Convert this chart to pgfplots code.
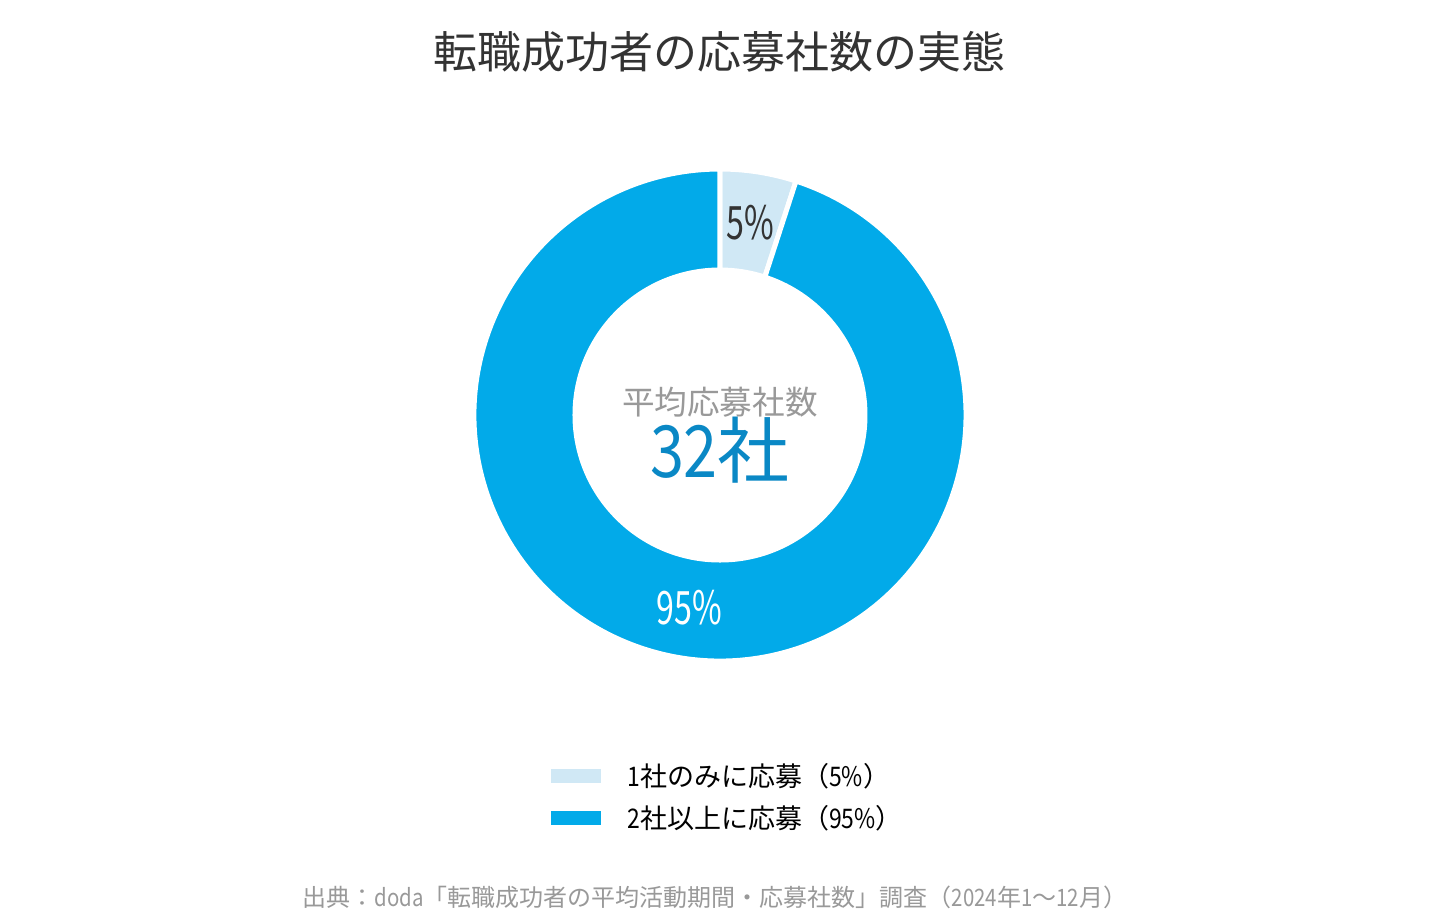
\documentclass[border=0pt]{standalone}
\usepackage{pgfplots}
\pgfplotsset{compat=1.18}
\usepackage{pgfplotstable}
\usepackage{fontspec}
\setmainfont{Noto Sans CJK JP}
\newfontfamily\numfont[FakeStretch=0.85]{Noto Sans CJK JP}
\newfontfamily\pctfont[FakeStretch=0.7]{Noto Sans CJK JP}

\definecolor{mainblue}{HTML}{02AAE9}
\definecolor{lightblue}{HTML}{D0E8F5}
\definecolor{numblue}{HTML}{0A88C5}
\definecolor{titlegray}{HTML}{333333}
\definecolor{softgray}{HTML}{999999}

% share of applicants (percent)
\pgfplotstableread{
group value
1 5
2 95
}\shares

\pgfplotstablegetelem{0}{value}\of\shares \let\va\pgfplotsretval
\pgfplotstablegetelem{1}{value}\of\shares \let\vb\pgfplotsretval
\pgfmathsetmacro\aA{90}
\pgfmathsetmacro\aB{90-3.6*\va}
\pgfmathsetmacro\aC{\aB-3.6*\vb}
\pgfmathsetmacro\mA{(\aA+\aB)/2}
\pgfmathsetmacro\mB{(\aB+\aC)/2}

\begin{document}
\begin{tikzpicture}
\path[use as bounding box, fill=white] (0,0) rectangle (720bp,460bp);
\begin{axis}[
  at={(0,0)}, anchor=origin,
  x=0.5bp, y=0.5bp,
  xmin=0, xmax=1440, ymin=0, ymax=920,
  hide axis, clip=false,
]
% donut, centre (720,505) in pixel units
\fill[lightblue, draw=white, line width=2.5bp]
  (axis cs:{720+246*cos(\aA)},{505+246*sin(\aA)}) arc[start angle=\aA, end angle=\aB, radius=123bp]
  -- (axis cs:{720+145*cos(\aB)},{505+145*sin(\aB)}) arc[start angle=\aB, end angle=\aA, radius=72.5bp] -- cycle;
\fill[mainblue, draw=white, line width=2.5bp]
  (axis cs:{720+246*cos(\aB)},{505+246*sin(\aB)}) arc[start angle=\aB, end angle=\aC, radius=123bp]
  -- (axis cs:{720+145*cos(\aC)},{505+145*sin(\aC)}) arc[start angle=\aC, end angle=\aB, radius=72.5bp] -- cycle;

\node[text=titlegray, font=\pctfont\fontsize{23bp}{26bp}\selectfont]
  at (axis cs:{720+195*cos(\mA)},{505+195*sin(\mA)}) {\va\%};
\node[text=white, font=\pctfont\fontsize{23bp}{26bp}\selectfont]
  at (axis cs:{720+195*cos(\mB)},{505+195*sin(\mB)}) {\vb\%};

% centre text
\node[text=softgray, font=\fontsize{16.3bp}{18bp}\selectfont] at (axis cs:720,518) {平均応募社数};
\node[text=numblue, font=\fontsize{36bp}{40bp}\selectfont] at (axis cs:720,470) {{\numfont 32}社};

% title
\node[text=titlegray, font=\fontsize{22bp}{26bp}\selectfont] at (axis cs:720,868) {転職成功者の応募社数の実態};

% legend
\fill[lightblue] (axis cs:551,137) rectangle (axis cs:601,151);
\fill[mainblue] (axis cs:551,95) rectangle (axis cs:601,109);
\node[anchor=west, inner sep=0pt, text=black, font=\fontsize{13.5bp}{15bp}\selectfont] at (axis cs:627,144) {{\numfont 1}社のみに応募（{\numfont 5\%}）};
\node[anchor=west, inner sep=0pt, text=black, font=\fontsize{13.5bp}{15bp}\selectfont] at (axis cs:627,102) {{\numfont 2}社以上に応募（{\numfont 95\%}）};

% source
\node[text=softgray, font=\fontsize{12bp}{14bp}\selectfont] at (axis cs:715,23) {出典：{\numfont doda}「転職成功者の平均活動期間・応募社数」調査（{\numfont 2024}年{\numfont 1}〜{\numfont 12}月）};
\end{axis}
\end{tikzpicture}
\end{document}
